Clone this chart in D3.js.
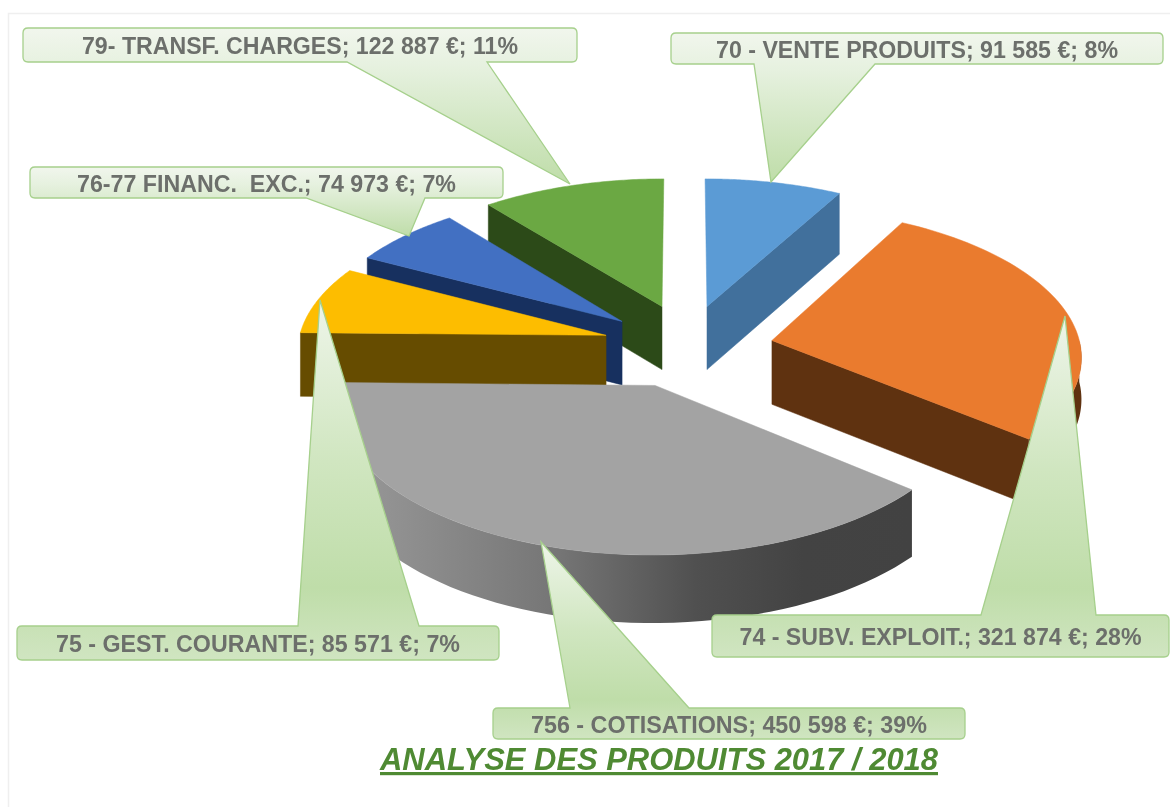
<!DOCTYPE html>
<html><head><meta charset="utf-8">
<script src="https://cdnjs.cloudflare.com/ajax/libs/d3/7.8.5/d3.min.js"></script>
<style>html,body{margin:0;padding:0;background:#fff}svg{display:block;filter:blur(0.55px)}</style>
</head><body><svg id="c" width="1170" height="807"></svg>
<script>
// ---- data ----
const categories = ["70 - VENTE PRODUITS","74 - SUBV. EXPLOIT.","756 - COTISATIONS","75 - GEST. COURANTE","76-77 FINANC.  EXC.","79- TRANSF. CHARGES"];
const amounts = [91585,321874,450598,85571,74973,122887];
const title = "ANALYSE DES PRODUITS 2017 / 2018";
// ---- styles ----
const topColors  = ["#5b9bd5","#ea7b2e","#a3a3a3","#fdbd00","#4270c2","#6ba843"];
const wallColors = ["#41709c","#5f3210","#5a5a5a","#664c00","#17305f","#2c4a18"];
// explosion of each slice on the ground plane (px)
const explodeX = [23.6,88.4,-28.3,-78.6,-63,-22.6];
const explodeZ = [92,18,-75,29,59,92];
const rimDepth = [1,0.65,1,1,1,1];
const paintOrder = [5,4,3,0,1,2];
// callout geometry: box [x0,y0,x1,y1], tail base [a,b], tip anchor
const boxes = [[671,33,1163,64],[712,615,1169,657],[493,708,965,739],[17,626,499,660],[30,167,503,198],[23,28,577,62]];
const tailBase = [[754,875],[981,1096],[570,689],[298,419],[306,425],[347,487]];
const tips = [[771,182],[1065,316],[541,542],[320,300],[409,236],[570,184]];
const textWidth = [402,402,396,404,379,436];

// ---- projection ----
const R=309,H=64,cx=684,cy=349,K=0.475,D=3350;
const persp=Z=>D/(D+Z);
const project=(X,Z)=>{const s=persp(Z);return [cx+X*s,cy-K*Z*s,H*Math.sqrt(s)];};
const svg=d3.select("#c");
const defs=svg.append("defs");
const color=d3.scaleOrdinal().domain(categories).range(topColors);
const wall=d3.scaleOrdinal().domain(categories).range(wallColors);
const line=d3.line();
const pct=d3.format(".0%");
const eur=v=>d3.format(",")(v).replace(/,/g," ")+" €";

const pieData=d3.pie().sort(null).value(d=>d.v)(categories.map((c,i)=>({c,v:amounts[i],i})));
const total=d3.sum(amounts);

// page frame
svg.append("path").attr("d","M8.5,807V13.5H1170").attr("fill","none").attr("stroke","#efefef").attr("stroke-width",1.5);

// rim gradient
const rg=defs.append("linearGradient").attr("id","rim").attr("gradientUnits","userSpaceOnUse")
 .attr("x1",370).attr("x2",912).attr("y1",0).attr("y2",0);
[[0,"#959595"],[.35,"#757575"],[.6,"#505050"],[.8,"#434343"],[1,"#424242"]].forEach(s=>rg.append("stop").attr("offset",s[0]).attr("stop-color",s[1]));

const g=svg.append("g");
const angleScale=d3.scaleLinear().domain([0,1]);
function pts(d,a0,a1){
  angleScale.range([a0,a1]);
  return d3.range(0,1.0001,1/60).map(t=>{const a=angleScale(t);
    return project(explodeX[d.data.i]+R*Math.sin(a),explodeZ[d.data.i]+R*Math.cos(a));});
}
const drop=p=>[p[0],p[1]+p[2]];
paintOrder.forEach(i=>{
  const d=pieData[i],name=d.data.c;
  const apex=project(explodeX[i],explodeZ[i]);
  const sl=g.append("g").attr("class","slice");
  const rimA0=Math.max(d.startAngle,Math.PI/2),rimA1=Math.min(d.endAngle,1.5*Math.PI);
  if(d.startAngle>Math.PI){ // start wall visible
    const p=pts(d,d.startAngle,d.startAngle+1e-4)[0];
    sl.append("path").attr("d",line([apex,p,drop(p),drop(apex)])+"Z").attr("fill",wall(name)).attr("stroke",wall(name)).attr("stroke-width",.5);
  }
  if(d.endAngle<Math.PI){ // end wall visible
    const p=pts(d,d.endAngle,d.endAngle+1e-4)[0];
    sl.append("path").attr("d",line([apex,p,drop(p),drop(apex)])+"Z").attr("fill",wall(name)).attr("stroke",wall(name)).attr("stroke-width",.5);
  }
  if(rimA1>rimA0){
    const a=pts(d,rimA0,rimA1);
    const low=a.map(p=>[p[0],p[1]+p[2]*rimDepth[i]]);
    sl.append("path").attr("d",line(a.concat(low.reverse()))+"Z")
      .attr("fill",i===2?"url(#rim)":wall(name));
  }
  sl.append("path").attr("d",line([apex].concat(pts(d,d.startAngle,d.endAngle)))+"Z")
    .attr("fill",color(name)).attr("stroke",color(name)).attr("stroke-width",.5);
});

// callouts
const gradTop=defs.append("linearGradient").attr("id","cTop").attr("x1",0).attr("x2",0).attr("y1",0).attr("y2",1);
[[0,"#f1f6ed"],[.25,"#e6f1df"],[1,"#bfdda9"]].forEach(s=>gradTop.append("stop").attr("offset",s[0]).attr("stop-color",s[1]));
const gradBot=defs.append("linearGradient").attr("id","cBot").attr("x1",0).attr("x2",0).attr("y1",0).attr("y2",1);
[[0,"#eef5e9"],[.45,"#d0e6c0"],[.8,"#bfdda9"],[1,"#d0e5c1"]].forEach(s=>gradBot.append("stop").attr("offset",s[0]).attr("stop-color",s[1]));

function calloutPath(b,base,tip){
  const [x0,y0,x1,y1]=b,r=5,up=tip[1]<y0;
  const p=d3.path();
  p.moveTo(x0+r,y0);
  if(up){p.lineTo(base[0],y0);p.lineTo(tip[0],tip[1]);p.lineTo(base[1],y0);}
  p.lineTo(x1-r,y0);p.quadraticCurveTo(x1,y0,x1,y0+r);
  p.lineTo(x1,y1-r);p.quadraticCurveTo(x1,y1,x1-r,y1);
  if(!up){p.lineTo(base[1],y1);p.lineTo(tip[0],tip[1]);p.lineTo(base[0],y1);}
  p.lineTo(x0+r,y1);p.quadraticCurveTo(x0,y1,x0,y1-r);
  p.lineTo(x0,y0+r);p.quadraticCurveTo(x0,y0,x0+r,y0);p.closePath();
  return p.toString();
}
const cg=svg.append("g").attr("class","callouts");
[5,4,0,3,1,2].forEach(i=>{
  const b=boxes[i],up=tips[i][1]<b[1];
  cg.append("path").attr("d",calloutPath(b,tailBase[i],tips[i]))
    .attr("fill",up?"url(#cBot)":"url(#cTop)").attr("stroke","#a6d08c").attr("stroke-width",1.3);
  cg.append("text").attr("x",(b[0]+b[2])/2).attr("y",(b[1]+b[3])/2+1)
    .attr("text-anchor","middle").attr("dominant-baseline","central")
    .attr("xml:space","preserve").style("white-space","pre")
    .attr("font-family","'Liberation Sans',Arial,sans-serif").attr("font-weight","bold")
    .attr("font-size",23.5).attr("fill","#6c6f6b")
    .attr("textLength",textWidth[i]).attr("lengthAdjust","spacingAndGlyphs")
    .text(`${categories[i]}; ${eur(amounts[i])}; ${pct(amounts[i]/total)}`);
});
svg.append("text").attr("x",659).attr("y",770).attr("text-anchor","middle")
  .attr("font-family","'Liberation Sans',Arial,sans-serif").attr("font-weight","bold").attr("font-style","italic")
  .attr("font-size",32).attr("fill","#4f8a33").attr("text-decoration","underline")
  .attr("textLength",558).attr("lengthAdjust","spacingAndGlyphs").text(title);
</script></body></html>
